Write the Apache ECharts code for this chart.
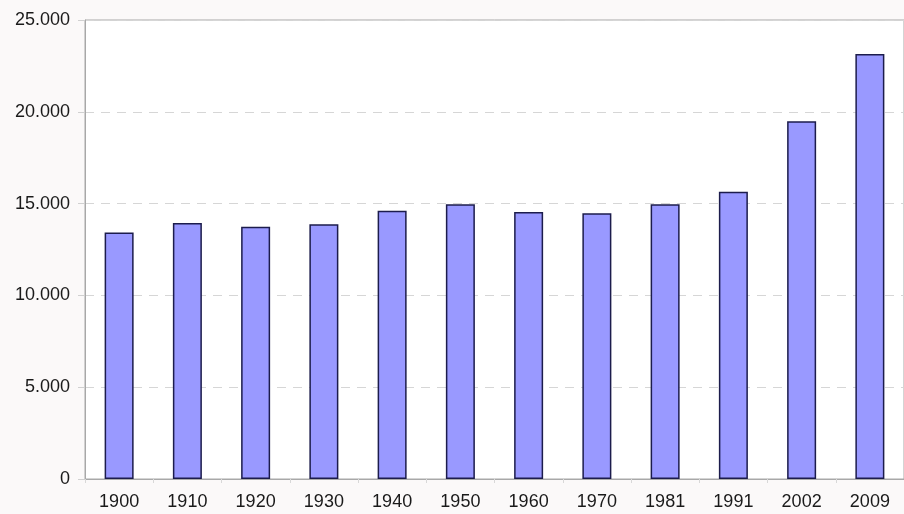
<!DOCTYPE html>
<html>
<head>
<meta charset="utf-8">
<script src="https://cdn.jsdelivr.net/npm/echarts@6/dist/echarts.min.js"></script>
<style>
  html, body { margin: 0; padding: 0; background: #fbf9f9; }
  #chart { width: 904px; height: 514px; }
</style>
</head>
<body>
<div id="chart"></div>
<script>
// Census years and population counts
const years = ['1900', '1910', '1920', '1930', '1940', '1950', '1960', '1970', '1981', '1991', '2002', '2009'];
const population = [13430, 13950, 13740, 13880, 14610, 14970, 14540, 14470, 14970, 15640, 19480, 23150];
const yTicks = [0, 5000, 10000, 15000, 20000, 25000];

function formatThousands(v) {
  return String(v).replace(/\B(?=(\d{3})+(?!\d))/g, '.');
}

const chart = echarts.init(document.getElementById('chart'), null, { renderer: 'canvas' });
chart.setOption({
  backgroundColor: '#fbf9f9',
  animation: false,
  grid: {
    left: 85, right: -8, top: 20, bottom: 35,
    show: true, backgroundColor: '#ffffff', borderColor: '#a8a8a8', borderWidth: 1
  },
  xAxis: {
    type: 'category',
    data: years,
    axisLine: { show: true, lineStyle: { color: '#a8a8a8', width: 1 } },
    axisTick: { show: true, alignWithLabel: false, length: 4, lineStyle: { color: '#d8d8d8' } },
    axisLabel: { color: '#1a1a1a', fontFamily: 'Liberation Sans, Arial, sans-serif', fontSize: 18, margin: 14 }
  },
  yAxis: {
    type: 'value',
    min: yTicks[0],
    max: yTicks[yTicks.length - 1],
    interval: yTicks[1] - yTicks[0],
    axisLine: { show: true, lineStyle: { color: '#a8a8a8', width: 1 } },
    axisTick: { show: true, length: 7, lineStyle: { color: '#d0d0d0' } },
    axisLabel: {
      color: '#1a1a1a', fontFamily: 'Liberation Sans, Arial, sans-serif', fontSize: 18, margin: 15,
      formatter: formatThousands
    },
    splitLine: { show: true, lineStyle: { color: '#d6d6d6', type: [9, 7], width: 1 } }
  },
  series: [{
    type: 'bar',
    data: population,
    barWidth: 29,
    itemStyle: { color: '#9999ff', borderColor: '#1c1c4c', borderWidth: 1.5 }
  }]
});
</script>
</body>
</html>
